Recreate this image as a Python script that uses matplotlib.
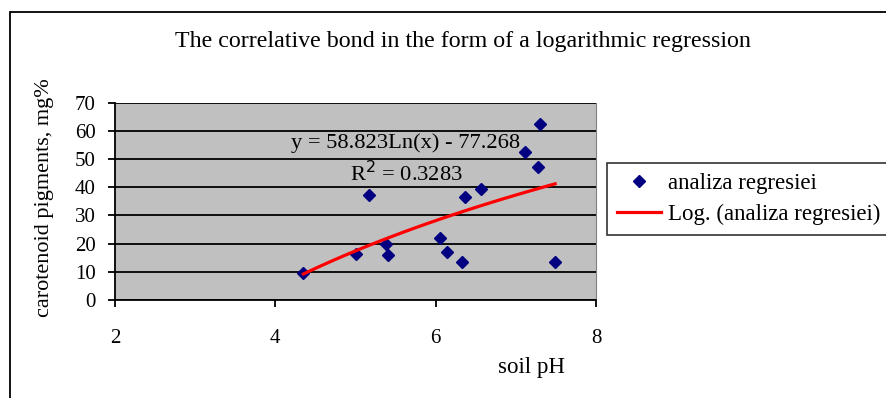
import matplotlib.pyplot as plt
import matplotlib.patches as mpatches
import numpy as np

plt.rcParams['font.family'] = ['Liberation Serif', 'DejaVu Serif']

# soil pH vs carotenoid pigments
ph = [4.35, 5.01, 5.17, 5.38, 5.40, 6.05, 6.14, 6.33, 6.37, 6.56, 7.12, 7.30, 7.28, 7.49]
carot = [9.5, 16.4, 37.1, 20.0, 16.0, 22.0, 17.1, 13.6, 36.5, 39.5, 52.4, 62.4, 47.1, 13.6]

# logarithmic trendline coefficients as printed on the chart
coef_a = 58.823
coef_b = -77.268
r2 = 0.3283

W, H = 887, 398
fig = plt.figure(figsize=(W/100, H/100), dpi=100)
ax = fig.add_axes([115/W, 1-300/H, 481/W, 197.5/H])

ax.set_facecolor('#C0C0C0')
ax.set_xlim(2, 8)
ax.set_ylim(0, 70)
ax.set_xticks([2, 4, 6, 8])
ax.set_yticks(range(0, 71, 10))
ax.yaxis.grid(True, color='black', lw=1.3)
ax.set_axisbelow(True)
ax.spines['top'].set_visible(False)
ax.spines['right'].set_color('#808080')
ax.spines['left'].set_linewidth(1.3)
ax.spines['bottom'].set_linewidth(1.3)
ax.tick_params(direction='out', length=5, width=1.3, labelsize=15, colors='black')
ax.tick_params(axis='y', pad=9)
ax.tick_params(axis='x', pad=16)

xs = np.linspace(min(ph), max(ph), 100)
ys = coef_a*np.log(xs) + coef_b

ax.plot(ph, carot, 'D', color='#000080', ms=6, ls='none', label='analiza regresiei')
ax.plot(xs, ys, color='#FF0000', lw=2.3, label='Log. (analiza regresiei)')

ax.text(406/W, 1-143/H, 'y = 58.823Ln(x) - 77.268', transform=fig.transFigure,
        ha='center', va='center', fontsize=16.2)
ax.text(406/W, 1-174/H, 'R$^{2}$ = %.4f' % r2, transform=fig.transFigure,
        ha='center', va='center', fontsize=16.2)

fig.text(463/W, 1-42/H, 'The correlative bond in the form of a logarithmic regression',
         ha='center', va='center', fontsize=17.3)
fig.text(532/W, 1-367/H, 'soil pH', ha='center', va='center', fontsize=16.5)
fig.text(45/W, 1-198/H, 'carotenoid pigments, mg%', ha='center', va='center',
         rotation=90, fontsize=16)

leg = ax.legend(loc='upper left', bbox_to_anchor=(607/W, 1-163/H),
                bbox_transform=fig.transFigure, frameon=True, fancybox=False,
                edgecolor='black', fontsize=16.5, borderaxespad=0, handlelength=1.9,
                handletextpad=0.3, labelspacing=0.4, borderpad=0.45)
leg.get_frame().set_linewidth(1.2)

# outer chart border
fig.patches.append(mpatches.Rectangle((10/W, -0.1), 1.1, 1-12/H+0.1, transform=fig.transFigure,
                                      fill=False, edgecolor='black', lw=1.3))

fig.savefig('out.png', dpi=100)
